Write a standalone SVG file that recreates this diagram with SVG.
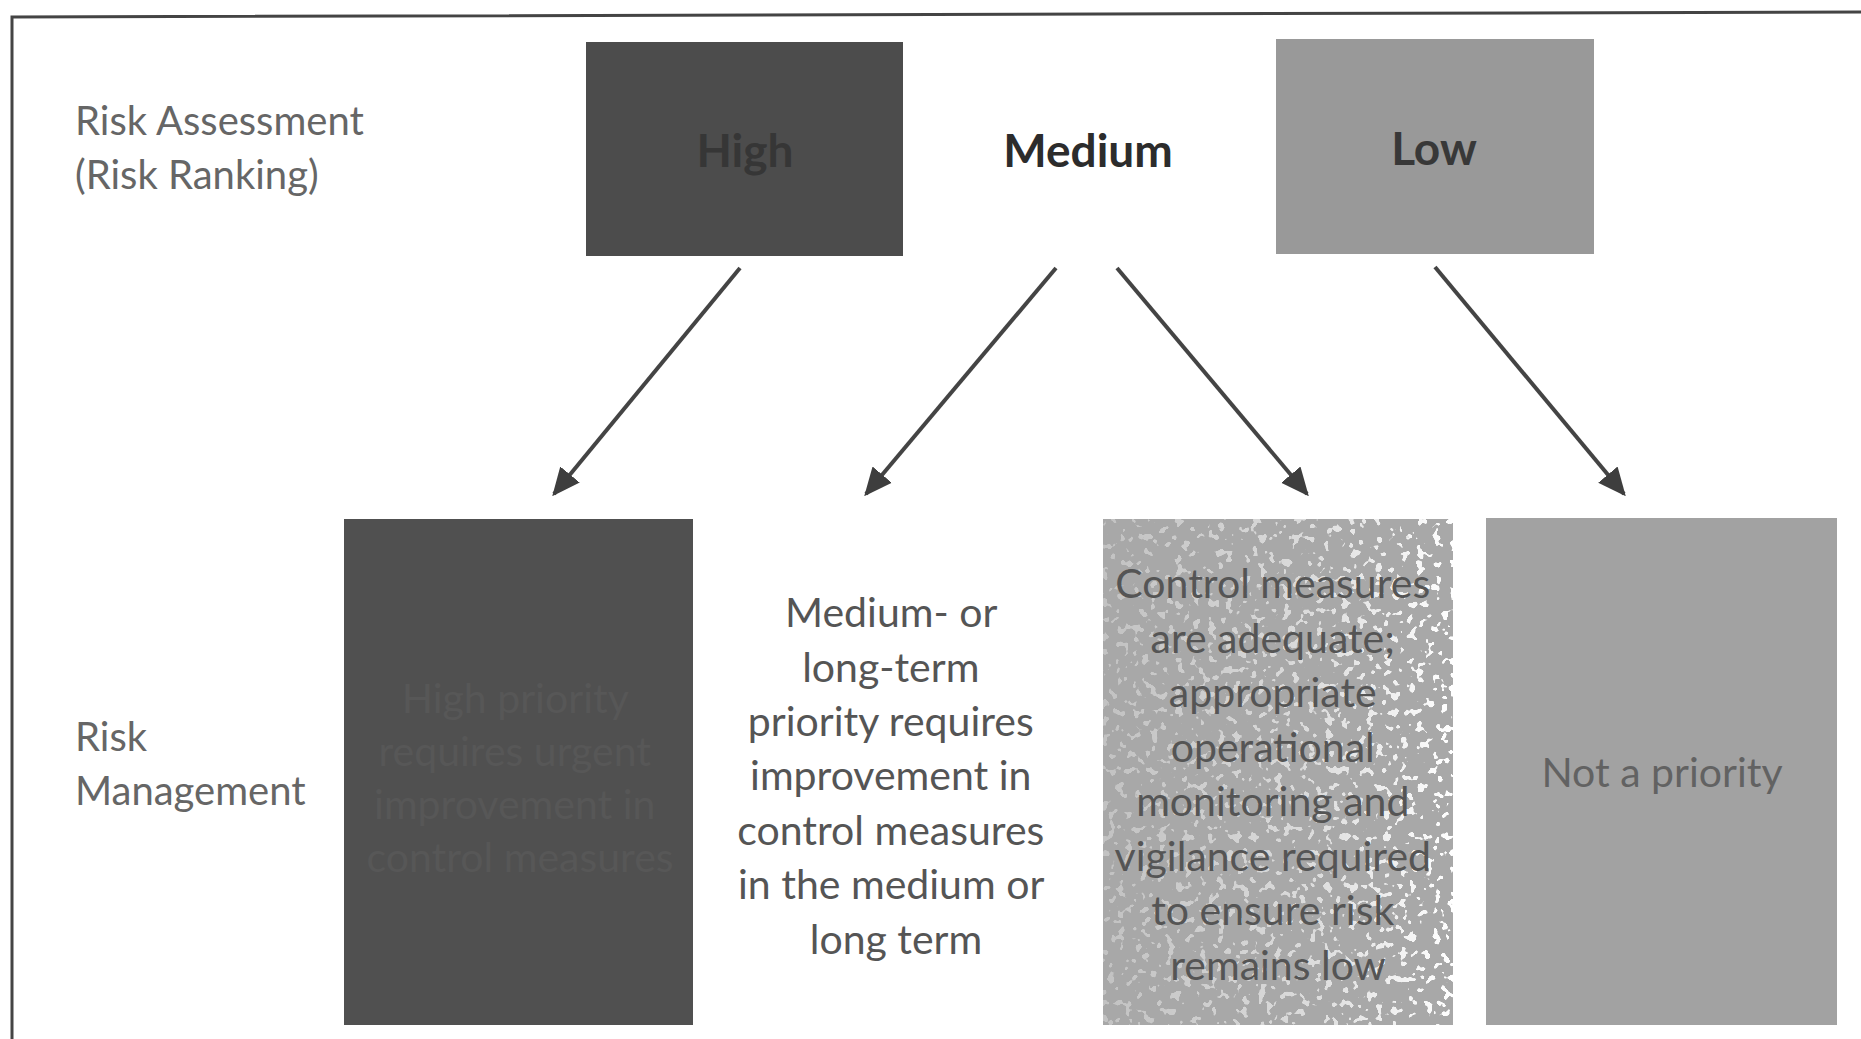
<svg xmlns="http://www.w3.org/2000/svg" width="1861" height="1039" viewBox="0 0 1861 1039">
<defs>
<marker id="ah" viewBox="0 0 10 10" refX="9" refY="5" markerWidth="7" markerHeight="7" markerUnits="strokeWidth" orient="auto">
<path d="M0,0.5 L10,5 L0,9.5 z" fill="#3e3e3e"/>
</marker>
<filter id="speck" x="0" y="0" width="1" height="1">
<feTurbulence type="fractalNoise" baseFrequency="0.12" numOctaves="2" seed="7" result="n"/>
<feColorMatrix in="n" type="matrix" values="0 0 0 0 1  0 0 0 0 1  0 0 0 0 1  0 0 0 -30 11.5" result="w"/>
<feComposite in="w" in2="SourceGraphic" operator="in"/>
</filter>
<linearGradient id="fade" x1="0" y1="0" x2="1" y2="0">
<stop offset="0" stop-color="#fff" stop-opacity="0.3"/>
<stop offset="0.6" stop-color="#fff" stop-opacity="0.6"/>
<stop offset="1" stop-color="#fff" stop-opacity="1"/>
</linearGradient>
<mask id="m3"><rect x="1103" y="519" width="350" height="506" fill="url(#fade)"/></mask>
</defs>
<style>
text{font-family:"Lato","Open Sans","Liberation Sans",sans-serif;}
.side{font-size:40px;fill:#666;}
.hd{font-size:46px;font-weight:bold;text-anchor:middle;}
.body{font-size:41px;text-anchor:middle;}
.conn{stroke:#444;stroke-width:4;fill:none;marker-end:url(#ah);}
</style>
<rect x="0" y="0" width="1861" height="1039" fill="#fff"/>
<path d="M12,1039 L12,17 L1861,12" fill="none" stroke="#444" stroke-width="3"/>

<g id="label-assessment">
<text class="side" x="75" y="135">Risk Assessment</text>
<text class="side" x="75" y="189">(Risk Ranking)</text>
</g>
<g id="label-management">
<text class="side" x="75" y="751">Risk</text>
<text class="side" x="75" y="805">Management</text>
</g>

<g id="high">
<rect x="586" y="42" width="317" height="214" fill="#4c4c4c"/>
<text class="hd" x="745" y="167" fill="#363636">High</text>
</g>
<g id="medium">
<text class="hd" x="1088" y="167" fill="#2c2c2c">Medium</text>
</g>
<g id="low">
<rect x="1276" y="39" width="318" height="215" fill="#999"/>
<text class="hd" x="1434" y="165" fill="#383838">Low</text>
</g>

<g id="high-action">
<rect x="344" y="519" width="349" height="506" fill="#505050"/>
<text class="body" fill="#575757">
<tspan x="520" y="713">High priority</tspan>
<tspan x="520" y="766">requires urgent</tspan>
<tspan x="520" y="819">improvement in</tspan>
<tspan x="520" y="872">control measures</tspan>
</text>
</g>

<g id="medium-action">
<text class="body" fill="#555">
<tspan x="896" y="627">Medium- or</tspan>
<tspan x="896" y="682">long-term</tspan>
<tspan x="896" y="736">priority requires</tspan>
<tspan x="896" y="790">improvement in</tspan>
<tspan x="896" y="845">control measures</tspan>
<tspan x="896" y="899">in the medium or</tspan>
<tspan x="896" y="954">long term</tspan>
</text>
</g>

<g id="low-control">
<rect x="1103" y="519" width="350" height="506" fill="#a8a8a8"/>
<rect x="1103" y="519" width="350" height="506" fill="#a8a8a8" filter="url(#speck)" mask="url(#m3)"/>
<text class="body" fill="#555">
<tspan x="1278" y="598">Control measures</tspan>
<tspan x="1278" y="653">are adequate;</tspan>
<tspan x="1278" y="707">appropriate</tspan>
<tspan x="1278" y="762">operational</tspan>
<tspan x="1278" y="816">monitoring and</tspan>
<tspan x="1278" y="871">vigilance required</tspan>
<tspan x="1278" y="925">to ensure risk</tspan>
<tspan x="1278" y="980">remains low</tspan>
</text>
</g>

<g id="not-priority">
<rect x="1486" y="518" width="351" height="507" fill="#a2a2a2"/>
<text class="body" fill="#626262" x="1662" y="787">Not a priority</text>
</g>

<g id="connectors">
<line class="conn" x1="740" y1="268" x2="554" y2="494"/>
<line class="conn" x1="1056" y1="268" x2="866" y2="494"/>
<line class="conn" x1="1117" y1="268" x2="1307" y2="494"/>
<line class="conn" x1="1435" y1="267" x2="1624" y2="494"/>
</g>
</svg>
